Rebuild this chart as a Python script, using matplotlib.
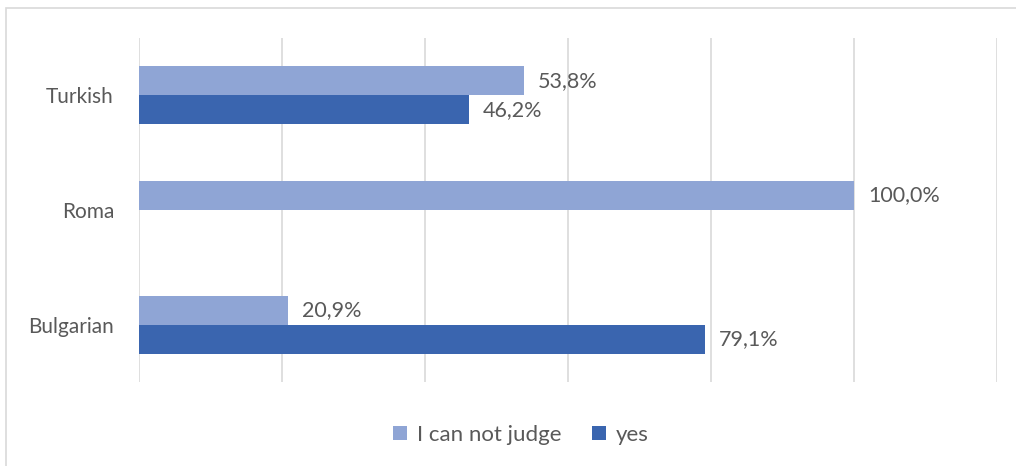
import matplotlib.pyplot as plt
from matplotlib.patches import Rectangle
import numpy as np

# data
categories = ["Bulgarian", "Roma", "Turkish"]
cannot_judge = [20.9, 100.0, 53.8]
yes = [79.1, 0.0, 46.2]

plt.rcParams["font.family"] = ["Lato", "DejaVu Sans"]
text_color = "#595959"
light = "#8FA5D5"
dark = "#3A65AF"
fs = 15

fig = plt.figure(figsize=(10.16, 4.66), dpi=100)
ax = fig.add_axes([139 / 1016, 84 / 466, 858 / 1016, 344 / 466])

# outer chart frame (only top/left visible in reference)
fig.patches.append(Rectangle((6 / 1016, -0.05), 1.2, 1 - 8 / 466 + 0.05,
                             transform=fig.transFigure, fill=False,
                             edgecolor="#D9D9D9", linewidth=1.2))

y = np.arange(len(categories))
h = 0.253

b1 = ax.barh(y + h / 2, cannot_judge, height=h, color=light, label="I can not judge")
b2 = ax.barh(y - h / 2, yes, height=h, color=dark, label="yes")

def fmt(v):
    return f"{v:.1f}".replace(".", ",") + "%"

for bars, vals in ((b1, cannot_judge), (b2, yes)):
    for bar, v in zip(bars, vals):
        if v <= 0:
            continue
        ax.annotate(fmt(v), (bar.get_width(), bar.get_y() + bar.get_height() / 2),
                    xytext=(10, 0), textcoords="offset points",
                    ha="left", va="center", fontsize=15.5, color=text_color)

ax.set_xlim(0, 120)
ax.set_ylim(-0.5, 2.5)
ax.set_xticks(np.arange(0, 121, 20))
ax.set_xticklabels([])
ax.set_yticks(y)
ax.set_yticklabels(categories, fontsize=fs, color=text_color)
ax.tick_params(axis="both", length=0)
ax.tick_params(axis="y", pad=18)
ax.grid(axis="x", color="#D9D9D9", linewidth=1.2)
ax.set_axisbelow(True)
for s in ax.spines.values():
    s.set_visible(False)

fig.legend(loc="center", bbox_to_anchor=(521 / 1016, 1 - 435 / 466),
           ncol=2, frameon=False, fontsize=16, labelcolor=text_color,
           handlelength=0.6, handleheight=0.6, handletextpad=0.45, columnspacing=1.4)

fig.savefig("out.png", dpi=100)
